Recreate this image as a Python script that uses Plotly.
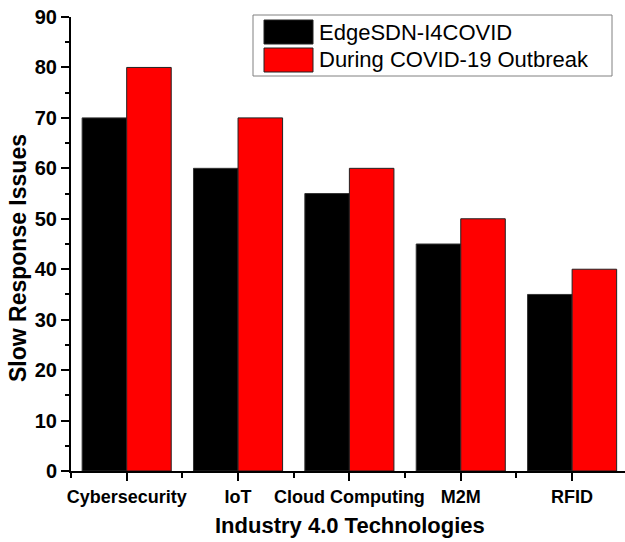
import plotly.graph_objects as go

categories = ["Cybersecurity", "IoT", "Cloud Computing", "M2M", "RFID"]
edge_sdn = [70, 60, 55, 45, 35]
during_covid = [80, 70, 60, 50, 40]
series_names = ["EdgeSDN-I4COVID", "During COVID-19 Outbreak"]
y_ticks = [0, 10, 20, 30, 40, 50, 60, 70, 80, 90]
x_title = "Industry 4.0 Technologies"
y_title = "Slow Response Issues"

positions = list(range(len(categories)))
FONT = "Arial, 'Liberation Sans', sans-serif"

fig = go.Figure()
fig.add_trace(go.Bar(x=positions, y=edge_sdn, name=series_names[0],
                     marker=dict(color="#000000", line=dict(color="#333333", width=1)),
                     showlegend=False))
fig.add_trace(go.Bar(x=positions, y=during_covid, name=series_names[1],
                     marker=dict(color="#ff0000", line=dict(color="#222222", width=1)),
                     showlegend=False))

W, H = 625, 542
ml, mr, mt, mb = 71, 0, 17, 542 - 471

fig.update_layout(
    width=W, height=H,
    margin=dict(l=ml, r=mr, t=mt, b=mb, pad=0, autoexpand=False),
    paper_bgcolor="white", plot_bgcolor="white",
    barmode="group", bargap=0.2, bargroupgap=0,
    font=dict(family=FONT, color="black"),
)

fig.update_xaxes(
    automargin=False,
    range=[-0.5, 4.475],
    tickmode="array", tickvals=positions,
    ticktext=[f"<b>{c}</b>" for c in categories],
    tickfont=dict(size=18, family=FONT, color="black"),
    ticklabeloverflow="allow",
    ticks="outside", ticklen=8, tickwidth=2, tickcolor="black",
    minor=dict(tickvals=[p - 0.5 for p in positions], ticks="outside",
               ticklen=5, tickwidth=2, tickcolor="black"),
    showline=True, linecolor="black", linewidth=2,
    showgrid=False, zeroline=False,
)
fig.update_yaxes(
    automargin=False,
    range=[0, 90],
    tickmode="array", tickvals=y_ticks,
    ticktext=[f"<b>{v}</b>" for v in y_ticks],
    tickfont=dict(size=20, family=FONT, color="black"),
    ticklabeloverflow="allow",
    ticks="outside", ticklen=8, tickwidth=2, tickcolor="black",
    minor=dict(dtick=5, ticks="outside", ticklen=4, tickwidth=2, tickcolor="black"),
    showline=True, linecolor="black", linewidth=2,
    showgrid=False, zeroline=False,
)

# convert window pixel positions to paper coordinates
def px(x):
    return (x - ml) / (W - ml - mr)

def py(y):
    return (H - mb - y) / (H - mt - mb)

# axis titles
fig.add_annotation(xref="paper", yref="paper", x=px(349.5), y=py(525),
                   text=f"<b>{x_title}</b>", showarrow=False,
                   xanchor="center", yanchor="middle",
                   font=dict(size=22, family=FONT, color="black"))
fig.add_annotation(xref="paper", yref="paper", x=px(18), y=py(258),
                   text=f"<b>{y_title}</b>", showarrow=False, textangle=-90,
                   xanchor="center", yanchor="middle",
                   font=dict(size=23, family=FONT, color="black"))

# manual legend
fig.add_shape(type="rect", xref="paper", yref="paper",
              x0=px(253), x1=px(612), y0=py(15), y1=py(76),
              line=dict(color="#808080", width=1), fillcolor="white")
swatch_colors = ["#000000", "#ff0000"]
rows = [(20, 44), (48, 72)]
for name, col, (ya, yb) in zip(series_names, swatch_colors, rows):
    fig.add_shape(type="rect", xref="paper", yref="paper",
                  x0=px(264), x1=px(313), y0=py(ya), y1=py(yb),
                  line=dict(color="#222222", width=1), fillcolor=col)
    fig.add_annotation(xref="paper", yref="paper", x=px(317), y=py((ya + yb) / 2),
                       text=name, showarrow=False, xanchor="left", yanchor="middle",
                       font=dict(size=22, family=FONT, color="black"))

fig.write_html("out.html", config={"displayModeBar": False},
               post_script="document.body.style.margin='0';")
